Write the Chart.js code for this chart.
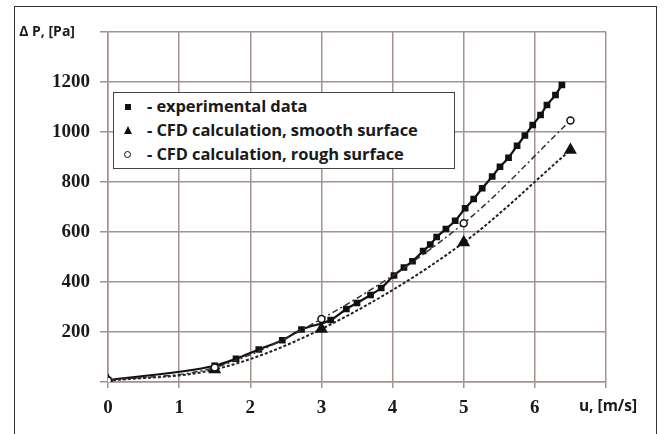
<!DOCTYPE html>
<html>
<head>
<meta charset="utf-8">
<script src="https://cdn.jsdelivr.net/npm/chart.js@4.4.1/dist/chart.umd.min.js"></script>
<style>
  html, body { margin: 0; padding: 0; background: #fff; }
  #wrap { position: relative; width: 667px; height: 434px; overflow: hidden; }
  #frame { position: absolute; left: 14px; top: 6px; width: 643px; height: 460px; border: 1.5px solid #333; box-sizing: border-box; }
  canvas { position: absolute; left: 0; top: 0; }
  #legend {
    position: absolute; left: 113px; top: 92px; width: 342px; height: 77px;
    border: 1.5px solid #444; box-sizing: border-box; background: #fff;
    font: bold 16.5px "Open Sans", sans-serif; color: #1a1a1a; letter-spacing: -0.1px;
  }
  .row { position: absolute; left: 0; height: 24px; line-height: 24px; white-space: nowrap; }
  .row .txt { position: absolute; left: 33px; top: -1px; }
  .mk { position: absolute; }
  .sq { left: 11px; top: 9px; width: 6px; height: 6px; background: #111; }
  .tri { left: 10px; top: 7px; width: 0; height: 0; border-left: 4.5px solid transparent; border-right: 4.5px solid transparent; border-bottom: 8px solid #111; }
  .circ { left: 10px; top: 8px; width: 5px; height: 5px; border: 1.5px solid #111; border-radius: 50%; }
</style>
</head>
<body>
<div id="wrap">
  <div id="frame"></div>
  <canvas id="chart" width="667" height="434"></canvas>
  <div id="legend">
    <div class="row" style="top:2px"><span class="mk sq"></span><span class="txt">- experimental data</span></div>
    <div class="row" style="top:26px"><span class="mk tri"></span><span class="txt">- CFD calculation, smooth surface</span></div>
    <div class="row" style="top:50px"><span class="mk circ"></span><span class="txt">- CFD calculation, rough surface</span></div>
  </div>
</div>
<script>
// experimental data (filled squares)
const expU = [0, 1.5, 1.8, 2.12, 2.45, 2.72, 3.13, 3.35, 3.5, 3.69, 3.84, 4.02, 4.16, 4.28, 4.43, 4.53, 4.62, 4.75, 4.88, 5.02, 5.14, 5.26, 5.4, 5.51, 5.63, 5.75, 5.86, 5.97, 6.08, 6.17, 6.29, 6.38];
const expDP = [8, 65, 93, 130, 167, 210, 248, 292, 316, 348, 376, 426, 458, 483, 524, 550, 580, 612, 645, 695, 732, 775, 822, 861, 897, 945, 986, 1028, 1068, 1108, 1148, 1188];

// CFD calculations
const cfdU = [0, 1.5, 3, 5, 6.5];
const smoothDP = [5, 50, 212, 558, 928];
const roughDP = [6, 58, 252, 635, 1046];

const xTicks = [0, 1, 2, 3, 4, 5, 6, 7];
const yTicks = [0, 200, 400, 600, 800, 1000, 1200, 1400];
const xTitle = 'u, [m/s]';
const yTitle = 'Δ P, [Pa]';

const toPoints = (xs, ys) => xs.map((x, i) => ({ x, y: ys[i] }));

const gridColor = '#a39290';
const tickFont = { family: '"Liberation Serif", serif', size: 19, weight: 'bold' };

const axisTitles = {
  id: 'axisTitles',
  afterDraw(chart) {
    const { ctx, scales: { x, y } } = chart;
    ctx.save();
    ctx.fillStyle = '#1a1a1a';
    ctx.textBaseline = 'middle';
    ctx.font = 'bold 14px "Open Sans"';
    ctx.textAlign = 'right';
    ctx.fillText(yTitle, x.left - 33, y.getPixelForValue(yTicks[yTicks.length - 1]));
    ctx.font = 'bold 15.5px "Open Sans"';
    ctx.textAlign = 'center';
    ctx.fillText(xTitle, x.getPixelForValue(xTicks[xTicks.length - 1]) + 2, x.top + 25);
    ctx.restore();
  }
};

new Chart(document.getElementById('chart'), {
  type: 'scatter',
  data: {
    datasets: [
      {
        label: 'CFD calculation, rough surface',
        data: toPoints(cfdU, roughDP),
        showLine: true,
        cubicInterpolationMode: 'monotone',
        borderColor: '#333',
        borderWidth: 1.5,
        borderDash: [6, 3, 2, 3],
        pointStyle: 'circle',
        pointRadius: 3.5,
        pointBorderWidth: 1.5,
        pointBackgroundColor: '#fff',
        pointBorderColor: '#111',
      },
      {
        label: 'CFD calculation, smooth surface',
        data: toPoints(cfdU, smoothDP),
        showLine: true,
        cubicInterpolationMode: 'monotone',
        borderColor: '#222',
        borderWidth: 2,
        borderDash: [3, 2],
        pointStyle: 'triangle',
        pointRadius: 5.5,
        pointBackgroundColor: '#111',
        pointBorderColor: '#111',
      },
      {
        label: 'experimental data',
        data: toPoints(expU, expDP),
        showLine: true,
        cubicInterpolationMode: 'monotone',
        borderColor: '#111',
        borderWidth: 2.2,
        pointStyle: 'rect',
        pointRadius: 3.2,
        pointBackgroundColor: '#111',
        pointBorderColor: '#111',
      },
    ],
  },
  options: {
    responsive: false,
    animation: false,
    layout: { padding: { left: 0, top: 32, right: 61, bottom: 0 } },
    scales: {
      x: {
        type: 'linear',
        min: 0,
        max: 7,
        afterBuildTicks: (s) => { s.ticks = xTicks.map(v => ({ value: v })); },
        afterFit: (s) => { s.height = 52; },
        ticks: {
          padding: 9,
          color: '#1a1a1a',
          font: tickFont,
          callback: (v) => (v === xTicks[xTicks.length - 1] ? '' : v),
        },
        grid: { color: gridColor, lineWidth: 1.5, tickLength: 6 },
        border: { color: gridColor, width: 1.5 },
      },
      y: {
        min: 0,
        max: 1400,
        afterBuildTicks: (s) => { s.ticks = yTicks.map(v => ({ value: v })); },
        afterFit: (s) => { s.width = 108; },
        ticks: {
          padding: 10,
          color: '#1a1a1a',
          font: tickFont,
          callback: (v) => (v === 0 || v === yTicks[yTicks.length - 1] ? '' : v),
        },
        grid: { color: gridColor, lineWidth: 1.5, tickLength: 8 },
        border: { color: gridColor, width: 1.5 },
      },
    },
    plugins: {
      legend: { display: false },
      tooltip: { enabled: false },
    },
  },
  plugins: [axisTitles],
});
</script>
</body>
</html>
